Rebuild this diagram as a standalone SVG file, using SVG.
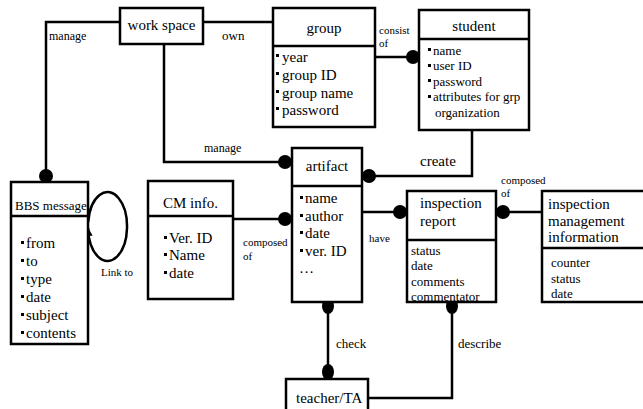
<svg xmlns="http://www.w3.org/2000/svg" width="643" height="409" viewBox="0 0 643 409" font-family="Liberation Serif, DejaVu Serif, serif">
<style>
.box{fill:#fff;stroke:#000;stroke-width:2.5}
.ln{fill:none;stroke:#000;stroke-width:2.5}
.h{font-size:15px}
.a{font-size:15px}
.s{font-size:13px}
.l{font-size:12px}
.xs{font-size:11px}
.dot{fill:#000}
.b{fill:#000}
</style>
<defs>
<marker id="arr" viewBox="0 0 10 10" refX="9" refY="5" markerWidth="3.5" markerHeight="3.5" orient="auto">
<path d="M0,0 L10,5 L0,10 z" fill="#000"/>
</marker>
</defs>
<g id="connectors">
<polyline class="ln" points="120,22 46,22 46,177"/>
<line class="ln" x1="203" y1="22" x2="273" y2="22"/>
<polyline class="ln" points="164,44 164,162 292,162"/>
<line class="ln" x1="375" y1="57" x2="419" y2="57"/>
<polyline class="ln" points="472,130 472,176 362,176"/>
<line class="ln" x1="233" y1="219" x2="292" y2="219"/>
<line class="ln" x1="362" y1="212" x2="407" y2="212"/>
<line class="ln" x1="496" y1="212" x2="542" y2="212"/>
<line class="ln" x1="328" y1="302" x2="328" y2="379"/>
<polyline class="ln" points="452,302 452,398 368,398"/>
<path class="ln" d="M88.2,222 A19.5,34.5 0 1 1 88.05,228" marker-end="url(#arr)"/>
<circle class="dot" cx="46" cy="176" r="7"/>
<circle class="dot" cx="285" cy="162" r="7"/>
<circle class="dot" cx="413" cy="57" r="7"/>
<circle class="dot" cx="369" cy="176" r="7"/>
<circle class="dot" cx="285" cy="219" r="7"/>
<circle class="dot" cx="400" cy="212" r="7"/>
<circle class="dot" cx="503" cy="212" r="7"/>
<ellipse class="dot" cx="328" cy="306" rx="6" ry="8"/>
<ellipse class="dot" cx="328" cy="372" rx="6" ry="8"/>
<ellipse class="dot" cx="452" cy="306" rx="6" ry="8"/>
<text class="l" x="49" y="40">manage</text>
<text class="s" x="222" y="40">own</text>
<text class="l" x="204" y="152">manage</text>
<text class="xs" x="379" y="34">consist</text>
<text class="xs" x="379" y="47">of</text>
<text class="a" x="420" y="166">create</text>
<text class="xs" x="501" y="184">composed</text>
<text class="xs" x="501" y="197">of</text>
<text class="xs" x="243" y="246">composed</text>
<text class="xs" x="243" y="260">of</text>
<text class="xs" x="369" y="242">have</text>
<text class="xs" x="101" y="276">Link to</text>
<text class="s" x="336" y="348">check</text>
<text class="s" x="458" y="348">describe</text>
</g>
<g id="workspace">
<rect class="box" x="120" y="8" width="83" height="36"/>
<text class="h" x="161.5" y="30" text-anchor="middle">work space</text>
</g>
<g id="group">
<rect class="box" x="273" y="8" width="102" height="119"/>
<line class="ln" x1="273" y1="46" x2="375" y2="46"/>
<text class="h" x="324" y="33" text-anchor="middle">group</text>
<rect class="b" x="276" y="54" width="3" height="3"/>
<text class="a" x="282" y="62">year</text>
<rect class="b" x="276" y="72" width="3" height="3"/>
<text class="a" x="282" y="80">group ID</text>
<rect class="b" x="276" y="90" width="3" height="3"/>
<text class="a" x="282" y="98">group name</text>
<rect class="b" x="276" y="107" width="3" height="3"/>
<text class="a" x="282" y="115">password</text>
</g>
<g id="student">
<rect class="box" x="419" y="10" width="110" height="120"/>
<line class="ln" x1="419" y1="39" x2="529" y2="39"/>
<text class="h" x="474" y="31" text-anchor="middle">student</text>
<rect class="b" x="428" y="48" width="3" height="3"/>
<text class="s" x="433" y="55">name</text>
<rect class="b" x="428" y="64" width="3" height="3"/>
<text class="s" x="433" y="70">user ID</text>
<rect class="b" x="428" y="79" width="3" height="3"/>
<text class="s" x="433" y="86">password</text>
<rect class="b" x="428" y="95" width="3" height="3"/>
<text class="s" x="433" y="101">attributes for grp</text>
<text class="s" x="435" y="117">organization</text>
</g>
<g id="artifact">
<rect class="box" x="292" y="148" width="70" height="154"/>
<line class="ln" x1="292" y1="186" x2="362" y2="186"/>
<text class="h" x="327" y="171" text-anchor="middle">artifact</text>
<rect class="b" x="300" y="196" width="3" height="3"/>
<text class="a" x="305" y="203">name</text>
<rect class="b" x="300" y="214" width="3" height="3"/>
<text class="a" x="305" y="221">author</text>
<rect class="b" x="300" y="231" width="3" height="3"/>
<text class="a" x="305" y="238">date</text>
<rect class="b" x="300" y="249" width="3" height="3"/>
<text class="a" x="305" y="256">ver. ID</text>
<text class="a" x="299" y="273">…</text>
</g>
<g id="bbs">
<rect class="box" x="11" y="182" width="77" height="162"/>
<line class="ln" x1="11" y1="216" x2="88" y2="216"/>
<text class="s" x="15" y="210">BBS message</text>
<rect class="b" x="21" y="241" width="3" height="3"/>
<text class="a" x="26" y="248">from</text>
<rect class="b" x="21" y="259" width="3" height="3"/>
<text class="a" x="26" y="266">to</text>
<rect class="b" x="21" y="277" width="3" height="3"/>
<text class="a" x="26" y="284">type</text>
<rect class="b" x="21" y="295" width="3" height="3"/>
<text class="a" x="26" y="302">date</text>
<rect class="b" x="21" y="313" width="3" height="3"/>
<text class="a" x="26" y="320">subject</text>
<rect class="b" x="21" y="331" width="3" height="3"/>
<text class="a" x="26" y="338">contents</text>
</g>
<g id="cminfo">
<rect class="box" x="148" y="181" width="85" height="118"/>
<line class="ln" x1="148" y1="216" x2="233" y2="216"/>
<text class="h" x="190.5" y="208" text-anchor="middle">CM info.</text>
<rect class="b" x="164" y="236" width="3" height="3"/>
<text class="a" x="169" y="243">Ver. ID</text>
<rect class="b" x="164" y="253" width="3" height="3"/>
<text class="a" x="169" y="260">Name</text>
<rect class="b" x="164" y="271" width="3" height="3"/>
<text class="a" x="169" y="278">date</text>
</g>
<g id="inspreport">
<rect class="box" x="407" y="191" width="89" height="111"/>
<line class="ln" x1="407" y1="240" x2="496" y2="240"/>
<text class="h" x="420" y="208">inspection</text>
<text class="h" x="420" y="226">report</text>
<text class="s" x="411" y="255">status</text>
<text class="s" x="411" y="270">date</text>
<text class="s" x="411" y="286">comments</text>
<text class="s" x="411" y="301">commentator</text>
</g>
<g id="inspmgmt">
<rect class="box" x="542" y="191" width="106" height="111"/>
<line class="ln" x1="542" y1="248" x2="648" y2="248"/>
<text class="h" x="548" y="209">inspection</text>
<text class="h" x="548" y="226">management</text>
<text class="h" x="548" y="242">information</text>
<text class="s" x="551" y="267">counter</text>
<text class="s" x="551" y="283">status</text>
<text class="s" x="551" y="298">date</text>
</g>
<g id="teacher">
<rect class="box" x="286" y="379" width="82" height="40"/>
<text class="h" x="296" y="403">teacher/TA</text>
</g>
</svg>
